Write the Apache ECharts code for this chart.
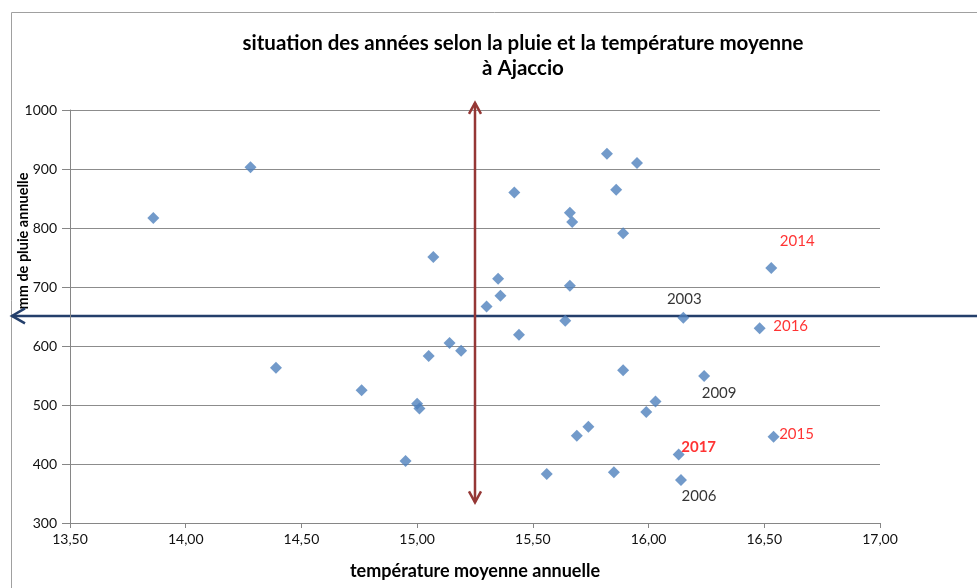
<!DOCTYPE html>
<html>
<head>
<meta charset="utf-8">
<script src="https://cdn.jsdelivr.net/npm/echarts@6/dist/echarts.min.js"></script>
<style>
  html, body { margin: 0; padding: 0; background: #fff; }
  #chart { width: 977px; height: 588px; }
</style>
</head>
<body>
<div id="chart"></div>
<script>
// température moyenne annuelle (°C)
var temps = [13.86, 14.28, 14.39, 14.76, 14.95, 15.00, 15.01, 15.05, 15.07, 15.14,
             15.19, 15.30, 15.35, 15.36, 15.42, 15.44, 15.56, 15.64, 15.66, 15.66,
             15.67, 15.69, 15.74, 15.82, 15.85, 15.86, 15.89, 15.89, 15.95, 15.99,
             16.03, 16.13, 16.14, 16.15, 16.24, 16.48, 16.53, 16.54];
// mm de pluie annuelle
var rain = [817, 903, 563, 525, 405, 502, 494, 583, 751, 605,
            592, 667, 714, 685, 860, 619, 383, 643, 826, 702,
            810, 448, 463, 926, 386, 865, 791, 559, 910, 488,
            506, 416, 373, 648, 549, 630, 732, 446];
// années annotées ('' = pas d'étiquette)
var years = ['', '', '', '', '', '', '', '', '', '',
             '', '', '', '', '', '', '', '', '', '',
             '', '', '', '', '', '', '', '', '', '',
             '', '2017', '2006', '2003', '2009', '2016', '2014', '2015'];

// repères (moyennes)
var meanTemp = 15.25;
var meanTempSpan = [335, 1012];
var meanRain = 651;

var xMin = 13.5, xMax = 17, xStep = 0.5;
var yMin = 300, yMax = 1000, yStep = 100;

// style des étiquettes d'années
var labelStyle = {
    '2003': {color: '#000', offset: [1, -19]},
    '2014': {color: '#ff0000', offset: [26, -27]},
    '2016': {color: '#ff0000', offset: [31, -2]},
    '2009': {color: '#000', offset: [15, 17]},
    '2015': {color: '#ff0000', offset: [23, -3]},
    '2017': {color: '#ff0000', offset: [20, -7], fontWeight: 'bold'},
    '2006': {color: '#000', offset: [18, 16]}
};

var font = 'Lato, "Noto Sans", sans-serif';

var points = temps.map(function (t, i) {
    var item = {value: [t, rain[i]]};
    var y = years[i];
    if (y) {
        var s = labelStyle[y];
        item.label = {
            show: true,
            formatter: y,
            position: 'inside',
            offset: s.offset,
            color: s.color,
            fontSize: 15,
            fontFamily: font,
            fontWeight: s.fontWeight || 'normal'
        };
    }
    return item;
});

var chart = echarts.init(document.getElementById('chart'));

var option = {
    animation: false,
    textStyle: {fontFamily: font},
    grid: {left: 70, right: 97, top: 110, bottom: 65, containLabel: false, outerBoundsMode: 'none'},
    xAxis: {
        type: 'value',
        min: xMin, max: xMax, interval: xStep,
        name: 'température moyenne annuelle',
        nameLocation: 'middle',
        nameGap: 39,
        nameTextStyle: {fontSize: 18, fontWeight: 'bold', color: '#000', fontFamily: font},
        axisLine: {show: true, lineStyle: {color: '#868686'}},
        axisTick: {show: true, length: 5, lineStyle: {color: '#868686'}},
        axisLabel: {
            color: '#111', fontSize: 14, margin: 9,
            formatter: function (v) { return v.toFixed(2).replace('.', ','); }
        },
        splitLine: {show: false}
    },
    yAxis: {
        type: 'value',
        min: yMin, max: yMax, interval: yStep,
        axisLine: {show: true, lineStyle: {color: '#868686'}},
        axisTick: {show: true, length: 8, lineStyle: {color: '#868686'}},
        axisLabel: {
            color: '#111', fontSize: 14, margin: 13,
            formatter: function (v) { return String(v); }
        },
        splitLine: {show: true, lineStyle: {color: '#8c8c8c'}}
    },
    series: [{
        type: 'scatter',
        symbol: 'diamond',
        symbolSize: 12,
        itemStyle: {color: '#4f81bd'},
        data: points
    }]
};
chart.setOption(option);

// annotations : cadre, titres, flèches
var pTop = chart.convertToPixel({gridIndex: 0}, [meanTemp, meanTempSpan[1]]);
var pBot = chart.convertToPixel({gridIndex: 0}, [meanTemp, meanTempSpan[0]]);
var hy = chart.convertToPixel({gridIndex: 0}, [xMin, meanRain])[1];
var red = '#953735', navy = '#243f6b';

chart.setOption({
    graphic: [
        {type: 'rect', silent: true, shape: {x: 11.5, y: 12.5, width: 990, height: 600},
         style: {fill: null, stroke: '#a0a0a0', lineWidth: 1}},
        {type: 'text', x: 523, y: 43, style: {
            text: 'situation des années selon la pluie et la température moyenne',
            font: 'bold 20.5px ' + font, fill: '#000', textAlign: 'center', textVerticalAlign: 'middle'}},
        {type: 'text', x: 523, y: 68, style: {
            text: 'à Ajaccio',
            font: 'bold 20.5px ' + font, fill: '#000', textAlign: 'center', textVerticalAlign: 'middle'}},
        {type: 'text', x: 23, y: 241, rotation: Math.PI / 2, style: {
            text: 'mm de pluie annuelle',
            font: 'bold 14.5px ' + font, fill: '#000', textAlign: 'center', textVerticalAlign: 'middle'}},
        // ligne horizontale (pluie moyenne)
        {type: 'line', shape: {x1: 12, y1: hy, x2: 977, y2: hy},
         style: {stroke: navy, lineWidth: 2.5}},
        {type: 'polyline', shape: {points: [[25, hy - 7.5], [12, hy], [25, hy + 7.5]]},
         style: {stroke: navy, lineWidth: 2.5, fill: null}},
        // flèche verticale (température moyenne)
        {type: 'line', shape: {x1: pTop[0], y1: pTop[1], x2: pBot[0], y2: pBot[1]},
         style: {stroke: red, lineWidth: 2.5}},
        {type: 'polyline', shape: {points: [[pTop[0] - 6, pTop[1] + 11], [pTop[0], pTop[1]], [pTop[0] + 6, pTop[1] + 11]]},
         style: {stroke: red, lineWidth: 2.5, fill: null}},
        {type: 'polyline', shape: {points: [[pBot[0] - 6, pBot[1] - 11], [pBot[0], pBot[1]], [pBot[0] + 6, pBot[1] - 11]]},
         style: {stroke: red, lineWidth: 2.5, fill: null}}
    ]
});
</script>
</body>
</html>
